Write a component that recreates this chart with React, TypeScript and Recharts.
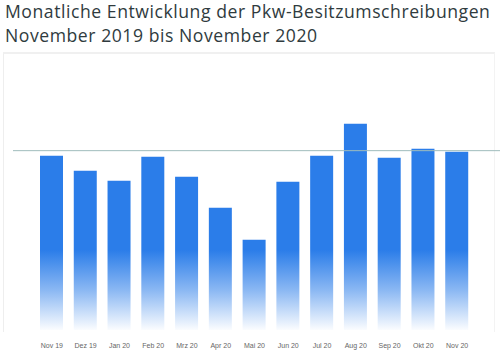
import { BarChart, Bar, XAxis, YAxis, ReferenceLine } from "recharts";

const months = [
  "Nov 19", "Dez 19", "Jan 20", "Feb 20", "Mrz 20", "Apr 20", "Mai 20",
  "Jun 20", "Jul 20", "Aug 20", "Sep 20", "Okt 20", "Nov 20",
];
const transfers = [
  583000, 533000, 499000, 580000, 513000, 409000, 302000,
  496000, 583000, 690000, 576000, 606000, 596000,
];
const average = 600000;

const data = months.map((month, i) => ({ month, value: transfers[i] }));

export default function App() {
  return (
    <div
      style={{
        position: "absolute",
        left: 0,
        top: 0,
        width: 500,
        height: 350,
        background: "#fff",
        fontFamily: "'Open Sans', sans-serif",
        overflow: "hidden",
      }}
    >
      <div
        style={{
          position: "absolute",
          left: 5,
          top: -1,
          fontSize: 17.6,
          letterSpacing: 0.55,
          lineHeight: "24px",
          color: "#2f3b3e",
          whiteSpace: "nowrap",
        }}
      >
        <div>Monatliche Entwicklung der Pkw-Besitzumschreibungen</div>
        <div>November 2019 bis November 2020</div>
      </div>
      <div
        style={{
          position: "absolute",
          left: 3,
          top: 52,
          width: 490,
          height: 278,
          borderTop: "2px solid #f0f0f0",
          borderLeft: "1px solid #eeeeee",
          borderRight: "1px solid #f3f3f3",
        }}
      />
      <div style={{ position: "absolute", left: 0, top: 0 }}>
        <BarChart
          width={500}
          height={350}
          data={data}
          margin={{ top: 61, right: 0, left: 13, bottom: 0 }}
          barSize={23}
        >
          <defs>
            <linearGradient
              id="barFade"
              gradientUnits="userSpaceOnUse"
              x1="0"
              y1="250"
              x2="0"
              y2="330"
            >
              <stop offset="0" stopColor="#2b7de9" stopOpacity={1} />
              <stop offset="0.5" stopColor="#2b7de9" stopOpacity={0.55} />
              <stop offset="1" stopColor="#2b7de9" stopOpacity={0.02} />
            </linearGradient>
          </defs>
          <XAxis
            dataKey="month"
            axisLine={false}
            tickLine={false}
            height={20}
            tickMargin={7}
            interval={0}
            padding={{ left: 22, right: 26 }}
            tick={{ fontSize: 7, fill: "#666", fontFamily: "Arial, sans-serif" }}
          />
          <YAxis hide domain={[0, 900000]} />
          <ReferenceLine y={average} stroke="#9fbcbc" strokeWidth={1} />
          <Bar
            dataKey="value"
            fill="url(#barFade)"
            isAnimationActive={false}
          />
        </BarChart>
      </div>
    </div>
  );
}
